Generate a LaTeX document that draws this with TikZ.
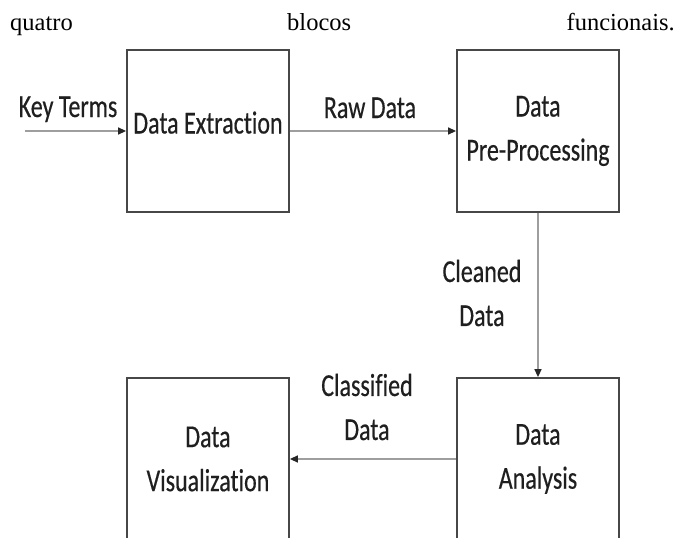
\documentclass[tikz,border=0pt]{standalone}
\usepackage{fontspec}
\newfontfamily\diagfont[FakeStretch=0.75,FakeBold=0.4,Ligatures=NoCommon]{Carlito}
\newfontfamily\topserif{Liberation Serif}
\usetikzlibrary{arrows.meta,calc}
\begin{document}
\begin{tikzpicture}[x=1pt,y=-1pt,
  blk/.style={draw=black!72, line width=1.8pt, minimum width=162pt, minimum height=162pt,
    inner sep=0pt, align=center, text=black!88, font=\diagfont\fontsize{32}{44}\selectfont},
  lbl/.style={text=black!88, font=\diagfont\fontsize{32}{44}\selectfont, align=center, inner sep=0pt},
  flow/.style={draw=black!38, line width=1.4pt, -{Triangle[length=8pt,width=7pt,color=black!85]}},
  word/.style={font=\topserif\fontsize{24.5}{28}\selectfont, inner sep=0pt, anchor=base west}]
\useasboundingbox (0,0) rectangle (683,538);
\clip (0,0) rectangle (683,538);
\fill[white] (0,0) rectangle (683,538);

% top text line
\node[word] (w1) at (10,30) {quatro};
\node[word] (w2) at (287,30) {blocos};
\node[word, anchor=base east] (w3) at (675,30) {funcionais.};

% blocks
\node[blk, text depth=17pt] (ext) at (208,131) {Data Extraction};
\node[blk] (pre) at (538,131) {Data\\Pre-Processing};
\node[blk] (vis) at (208,459) {Data\\Visualization};
\node[blk] (ana) at (538,459) {Data\\Analysis};

% connectors
\coordinate (kin) at (25,131);
\draw[flow] (kin) -- (ext.west);
\draw[flow] (ext.east) -- (pre.west);
\draw[flow] (pre.south) -- (ana.north);
\draw[flow] (ana.west) -- (vis.east);

% connector labels
\node[lbl, anchor=base] (kt) at (68,117) {Key Terms};
\node[lbl, anchor=base] (rd) at (370,118) {Raw Data};
\node[lbl] (cd) at (482,293) {Cleaned\\Data};
\node[lbl] (cl) at (367,407) {Classified\\Data};
\end{tikzpicture}
\end{document}
